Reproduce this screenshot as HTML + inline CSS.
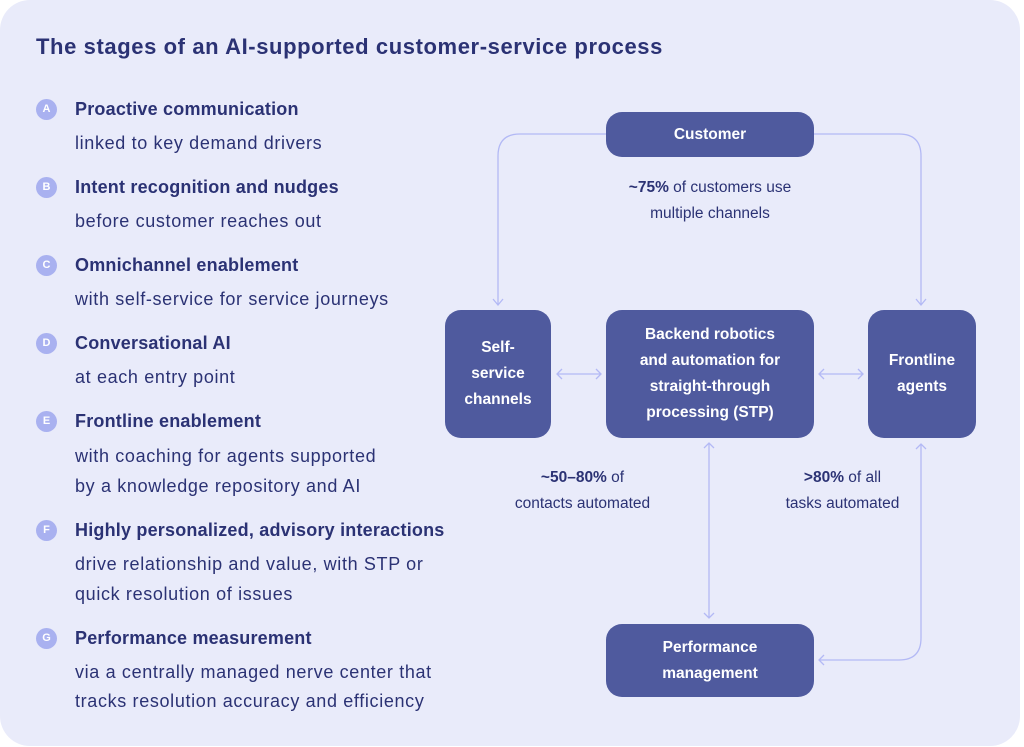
<!DOCTYPE html>
<html><head><meta charset="utf-8"><style>
body{margin:0;width:1024px;height:747px;background:#fff;overflow:hidden;font-family:"Liberation Sans",sans-serif;}
.card{position:absolute;left:0;top:0;width:1020px;height:746px;background:#e9ebfa;border-radius:30px;}
.t{position:absolute;color:#2b3274;white-space:nowrap;}
h1{position:absolute;left:36px;top:34px;margin:0;font-size:22px;letter-spacing:0.6px;font-weight:bold;color:#2b3274;}
.b{position:absolute;left:36px;width:21px;height:21px;border-radius:50%;background:#a9b1f0;color:#fff;font-size:11px;font-weight:bold;text-align:center;line-height:21px;}
.hd{font-size:18px;letter-spacing:0.2px;font-weight:bold;left:75px;}
.sb{font-size:18px;letter-spacing:0.65px;left:75px;}
.n{position:absolute;background:#4f5a9e;color:#fff;border-radius:16px;display:flex;align-items:center;justify-content:center;text-align:center;font-weight:bold;font-size:15.5px;line-height:26px;}
.lb{position:absolute;font-size:15.5px;color:#2b3274;text-align:center;line-height:26px;}
</style></head><body>
<div class="card"></div>
<h1>The stages of an AI-supported customer-service process</h1>
<div class="b" style="top:99px">A</div><div class="t hd" style="top:99px">Proactive communication</div><div class="t sb" style="top:133px">linked to key demand drivers</div>
<div class="b" style="top:177px">B</div><div class="t hd" style="top:177px">Intent recognition and nudges</div><div class="t sb" style="top:211px">before customer reaches out</div>
<div class="b" style="top:255px">C</div><div class="t hd" style="top:255px">Omnichannel enablement</div><div class="t sb" style="top:289px">with self-service for service journeys</div>
<div class="b" style="top:333px">D</div><div class="t hd" style="top:333px">Conversational AI</div><div class="t sb" style="top:367px">at each entry point</div>
<div class="b" style="top:411px">E</div><div class="t hd" style="top:411px">Frontline enablement</div><div class="t sb" style="top:446px">with coaching for agents supported</div><div class="t sb" style="top:476px">by a knowledge repository and AI</div>
<div class="b" style="top:520px">F</div><div class="t hd" style="top:520px">Highly personalized, advisory interactions</div><div class="t sb" style="top:554px">drive relationship and value, with STP or</div><div class="t sb" style="top:584px">quick resolution of issues</div>
<div class="b" style="top:628px">G</div><div class="t hd" style="top:628px">Performance measurement</div><div class="t sb" style="top:662px">via a centrally managed nerve center that</div><div class="t sb" style="top:691px">tracks resolution accuracy and efficiency</div>

<svg style="position:absolute;left:0;top:0" width="1024" height="747" fill="none" stroke="#b3b9f5" stroke-width="1.3">
<path d="M606 134 H520 Q498 134 498 156 V304"/><path d="M493 299 L498 305 L503 299"/>
<path d="M814 134 H899 Q921 134 921 156 V304"/><path d="M916 299 L921 305 L926 299"/>
<path d="M557 374 H601 M562 369 L557 374 L562 379 M596 369 L601 374 L596 379"/>
<path d="M819 374 H863 M824 369 L819 374 L824 379 M858 369 L863 374 L858 379"/>
<path d="M709 443 V618 M704 448 L709 443 L714 448 M704 613 L709 618 L714 613"/>
<path d="M921 444 V638 Q921 660 899 660 H819"/><path d="M916 449 L921 444 L926 449 M824 655 L819 660 L824 665"/>
</svg>

<div class="n" style="left:606px;top:112px;width:208px;height:45px">Customer</div>
<div class="n" style="left:445px;top:310px;width:106px;height:128px">Self-<br>service<br>channels</div>
<div class="n" style="left:606px;top:310px;width:208px;height:128px">Backend robotics<br>and automation for<br>straight-through<br>processing (STP)</div>
<div class="n" style="left:868px;top:310px;width:108px;height:128px">Frontline<br>agents</div>
<div class="n" style="left:606px;top:624px;width:208px;height:73px">Performance<br>management</div>

<div class="lb" style="left:610px;top:175px;width:200px"><b>~75%</b> of customers use<br>multiple channels</div>
<div class="lb" style="left:490px;top:465px;width:185px"><b>~50–80%</b> of<br>contacts automated</div>
<div class="lb" style="left:760px;top:465px;width:165px"><b>&gt;80%</b> of all<br>tasks automated</div>
</body></html>
